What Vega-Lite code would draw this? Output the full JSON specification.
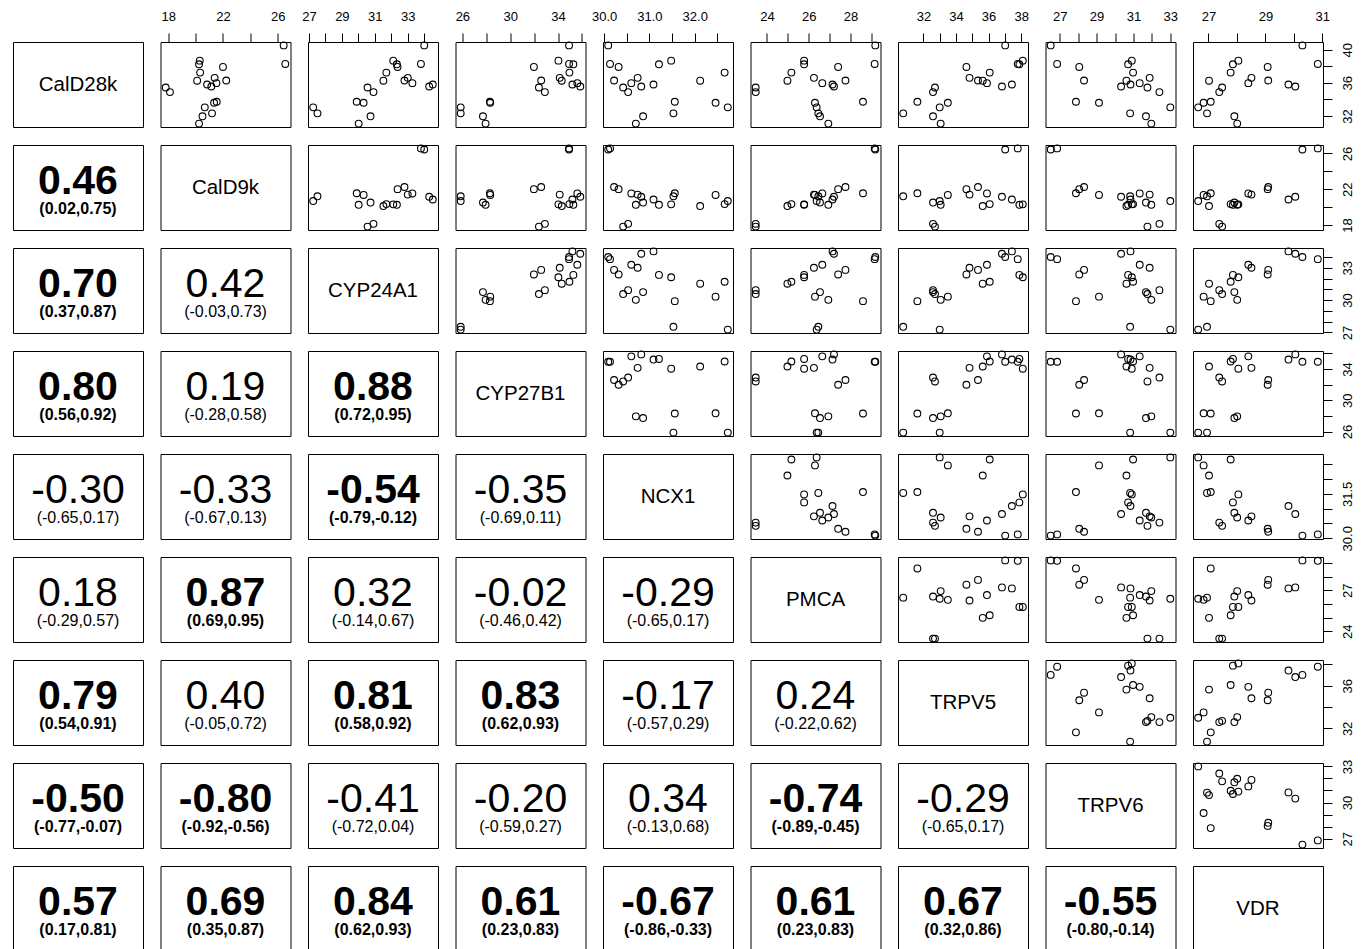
{
"$schema":"https://vega.github.io/schema/vega-lite/v6.json",
"background":"white",
"padding":{"left":12,"top":9,"right":5,"bottom":0},
"datasets":{"s":[
{"CalD28k":40.52,"CalD9k":26.44,"CYP24A1":34.0,"CYP27B1":34.92,"NCX1":30.09,"PMCA":29.19,"TRPV5":37.02,"TRPV6":26.51,"VDR":30.30},
{"CalD28k":38.28,"CalD9k":26.56,"CYP24A1":33.8,"CYP27B1":34.92,"NCX1":30.13,"PMCA":29.16,"TRPV5":37.79,"TRPV6":26.86,"VDR":30.84},
{"CalD28k":38.68,"CalD9k":20.30,"CYP24A1":32.12,"CYP27B1":34.03,"NCX1":31.48,"PMCA":25.78,"TRPV5":38.10,"TRPV6":30.91,"VDR":28.05},
{"CalD28k":38.24,"CalD9k":20.25,"CYP24A1":32.34,"CYP27B1":35.28,"NCX1":31.21,"PMCA":25.78,"TRPV5":37.89,"TRPV6":30.71,"VDR":27.86},
{"CalD28k":37.24,"CalD9k":20.33,"CYP24A1":31.7,"CYP27B1":34.95,"NCX1":32.66,"PMCA":25.17,"TRPV5":36.07,"TRPV6":30.98,"VDR":27.78},
{"CalD28k":37.92,"CalD9k":22.0,"CYP24A1":32.38,"CYP27B1":31.98,"NCX1":30.32,"PMCA":27.41,"TRPV5":34.64,"TRPV6":28.06,"VDR":29.08},
{"CalD28k":36.6,"CalD9k":21.39,"CYP24A1":33.0,"CYP27B1":34.14,"NCX1":30.74,"PMCA":26.25,"TRPV5":34.83,"TRPV6":31.88,"VDR":28.51},
{"CalD28k":35.96,"CalD9k":21.52,"CYP24A1":33.28,"CYP27B1":35.61,"NCX1":30.60,"PMCA":26.65,"TRPV5":35.90,"TRPV6":31.34,"VDR":28.40},
{"CalD28k":36.28,"CalD9k":22.24,"CYP24A1":32.8,"CYP27B1":32.59,"NCX1":30.22,"PMCA":27.76,"TRPV5":35.35,"TRPV6":28.32,"VDR":29.10},
{"CalD28k":36.26,"CalD9k":20.11,"CYP24A1":31.52,"CYP27B1":34.31,"NCX1":32.12,"PMCA":24.98,"TRPV5":35.64,"TRPV6":30.62,"VDR":27.02},
{"CalD28k":35.44,"CalD9k":17.81,"CYP24A1":30.56,"CYP27B1":32.4,"NCX1":30.42,"PMCA":23.46,"TRPV5":32.71,"TRPV6":31.76,"VDR":27.48},
{"CalD28k":34.88,"CalD9k":18.12,"CYP24A1":30.92,"CYP27B1":32.9,"NCX1":30.53,"PMCA":23.46,"TRPV5":32.59,"TRPV6":32.41,"VDR":27.38},
{"CalD28k":35.8,"CalD9k":20.84,"CYP24A1":34.52,"CYP27B1":35.20,"NCX1":31.09,"PMCA":27.14,"TRPV5":37.43,"TRPV6":30.84,"VDR":29.81},
{"CalD28k":35.56,"CalD9k":21.15,"CYP24A1":34.3,"CYP27B1":35.86,"NCX1":30.82,"PMCA":27.21,"TRPV5":36.82,"TRPV6":30.33,"VDR":30.05},
{"CalD28k":33.6,"CalD9k":21.35,"CYP24A1":30.32,"CYP27B1":28.33,"NCX1":32.46,"PMCA":26.30,"TRPV5":33.50,"TRPV6":29.13,"VDR":26.83},
{"CalD28k":33.72,"CalD9k":21.54,"CYP24A1":29.9,"CYP27B1":28.30,"NCX1":31.56,"PMCA":28.60,"TRPV5":31.63,"TRPV6":27.88,"VDR":27.08},
{"CalD28k":33.04,"CalD9k":20.67,"CYP24A1":27.26,"CYP27B1":25.86,"NCX1":32.73,"PMCA":26.38,"TRPV5":33.0,"TRPV6":33.0,"VDR":26.64},
{"CalD28k":32.32,"CalD9k":21.2,"CYP24A1":27.52,"CYP27B1":25.86,"NCX1":31.53,"PMCA":26.46,"TRPV5":30.76,"TRPV6":30.82,"VDR":26.95},
{"CalD28k":31.96,"CalD9k":20.5,"CYP24A1":30.74,"CYP27B1":27.72,"NCX1":30.86,"PMCA":26.54,"TRPV5":32.59,"TRPV6":31.68,"VDR":27.91},
{"CalD28k":31.08,"CalD9k":20.25,"CYP24A1":30.02,"CYP27B1":27.94,"NCX1":30.70,"PMCA":26.94,"TRPV5":33.06,"TRPV6":31.97,"VDR":28.01}
]},
"config":{
"view":{"stroke":"black","strokeWidth":1},
"axis":{"domain":false,"grid":false,"tickColor":"black","tickSize":9,"tickWidth":1,"labelFont":"Liberation Sans","labelFontSize":13,"labelColor":"black","labelPadding":10,"labelOverlap":false,"labelFlush":false},
"axisRight":{"labelAngle":-90,"labelAlign":"center","labelBaseline":"top","labelPadding":9},
"point":{"shape":"circle","filled":false,"color":"black","size":46,"strokeWidth":1.1,"opacity":1},
"text":{"font":"Liberation Sans","color":"black"}
},
"columns":9,
"spacing":{"row":18,"column":17.5},
"bounds":"flush",
"align":"all",
"concat":[
{"width":130,"height":85,"data":{"values":[{"t":"CalD28k"}]},"mark":{"type":"text","fontSize":20.5},"encoding":{"text":{"field":"t"},"x":{"datum":0,"type":"quantitative","scale":{"domain":[-1,1]},"axis":null},"y":{"datum":0,"type":"quantitative","scale":{"domain":[-1,1]},"axis":null}}},
{"width":130,"height":85,"data":{"name":"s"},"mark":"point","encoding":{"x":{"field":"CalD9k","type":"quantitative","scale":{"zero":false,"nice":false,"padding":5.2},"axis":{"orient":"top","title":null,"values":[18,20,22,24,26],"labelExpr":"indexof([18,22,26],datum.value)>=0?datum.label:''"}},"y":{"field":"CalD28k","type":"quantitative","scale":{"zero":false,"nice":false,"padding":3.4},"axis":null}}},
{"width":130,"height":85,"data":{"name":"s"},"mark":"point","encoding":{"x":{"field":"CYP24A1","type":"quantitative","scale":{"zero":false,"nice":false,"padding":5.2},"axis":{"orient":"top","title":null,"values":[27,28,29,30,31,32,33,34],"labelExpr":"indexof([27,29,31,33],datum.value)>=0?datum.label:''"}},"y":{"field":"CalD28k","type":"quantitative","scale":{"zero":false,"nice":false,"padding":3.4},"axis":null}}},
{"width":130,"height":85,"data":{"name":"s"},"mark":"point","encoding":{"x":{"field":"CYP27B1","type":"quantitative","scale":{"zero":false,"nice":false,"padding":5.2},"axis":{"orient":"top","title":null,"values":[26,28,30,32,34,36],"labelExpr":"indexof([26,30,34],datum.value)>=0?datum.label:''"}},"y":{"field":"CalD28k","type":"quantitative","scale":{"zero":false,"nice":false,"padding":3.4},"axis":null}}},
{"width":130,"height":85,"data":{"name":"s"},"mark":"point","encoding":{"x":{"field":"NCX1","type":"quantitative","scale":{"zero":false,"nice":false,"padding":5.2},"axis":{"orient":"top","title":null,"format":".1f","values":[30,30.5,31,31.5,32,32.5],"labelExpr":"indexof([30,31,32],datum.value)>=0?datum.label:''"}},"y":{"field":"CalD28k","type":"quantitative","scale":{"zero":false,"nice":false,"padding":3.4},"axis":null}}},
{"width":130,"height":85,"data":{"name":"s"},"mark":"point","encoding":{"x":{"field":"PMCA","type":"quantitative","scale":{"zero":false,"nice":false,"padding":5.2},"axis":{"orient":"top","title":null,"values":[24,25,26,27,28,29],"labelExpr":"indexof([24,26,28],datum.value)>=0?datum.label:''"}},"y":{"field":"CalD28k","type":"quantitative","scale":{"zero":false,"nice":false,"padding":3.4},"axis":null}}},
{"width":130,"height":85,"data":{"name":"s"},"mark":"point","encoding":{"x":{"field":"TRPV5","type":"quantitative","scale":{"zero":false,"nice":false,"padding":5.2},"axis":{"orient":"top","title":null,"values":[32,33,34,35,36,37,38],"labelExpr":"indexof([32,34,36,38],datum.value)>=0?datum.label:''"}},"y":{"field":"CalD28k","type":"quantitative","scale":{"zero":false,"nice":false,"padding":3.4},"axis":null}}},
{"width":130,"height":85,"data":{"name":"s"},"mark":"point","encoding":{"x":{"field":"TRPV6","type":"quantitative","scale":{"zero":false,"nice":false,"padding":5.2},"axis":{"orient":"top","title":null,"values":[27,28,29,30,31,32,33],"labelExpr":"indexof([27,29,31,33],datum.value)>=0?datum.label:''"}},"y":{"field":"CalD28k","type":"quantitative","scale":{"zero":false,"nice":false,"padding":3.4},"axis":null}}},
{"width":130,"height":85,"data":{"name":"s"},"mark":"point","encoding":{"x":{"field":"VDR","type":"quantitative","scale":{"zero":false,"nice":false,"padding":5.2},"axis":{"orient":"top","title":null,"values":[27,28,29,30,31],"labelExpr":"indexof([27,29,31],datum.value)>=0?datum.label:''"}},"y":{"field":"CalD28k","type":"quantitative","scale":{"zero":false,"nice":false,"padding":3.4},"axis":{"orient":"right","title":null,"values":[32,34,36,38,40],"labelExpr":"indexof([32,36,40],datum.value)>=0?datum.label:''"}}}},

{"width":130,"height":85,"data":{"values":[{"r":"0.46","ci":"(0.02,0.75)"}]},"encoding":{"x":{"datum":0,"type":"quantitative","scale":{"domain":[-1,1]},"axis":null},"y":{"datum":0,"type":"quantitative","scale":{"domain":[-1,1]},"axis":null}},"layer":[{"mark":{"type":"text","fontSize":41,"fontWeight":"bold","dy":-6},"encoding":{"text":{"field":"r"}}},{"mark":{"type":"text","fontSize":16,"fontWeight":"bold","dy":21},"encoding":{"text":{"field":"ci"}}}]},
{"width":130,"height":85,"data":{"values":[{"t":"CalD9k"}]},"mark":{"type":"text","fontSize":20.5},"encoding":{"text":{"field":"t"},"x":{"datum":0,"type":"quantitative","scale":{"domain":[-1,1]},"axis":null},"y":{"datum":0,"type":"quantitative","scale":{"domain":[-1,1]},"axis":null}}},
{"width":130,"height":85,"data":{"name":"s"},"mark":"point","encoding":{"x":{"field":"CYP24A1","type":"quantitative","scale":{"zero":false,"nice":false,"padding":5.2},"axis":null},"y":{"field":"CalD9k","type":"quantitative","scale":{"zero":false,"nice":false,"padding":3.4},"axis":null}}},
{"width":130,"height":85,"data":{"name":"s"},"mark":"point","encoding":{"x":{"field":"CYP27B1","type":"quantitative","scale":{"zero":false,"nice":false,"padding":5.2},"axis":null},"y":{"field":"CalD9k","type":"quantitative","scale":{"zero":false,"nice":false,"padding":3.4},"axis":null}}},
{"width":130,"height":85,"data":{"name":"s"},"mark":"point","encoding":{"x":{"field":"NCX1","type":"quantitative","scale":{"zero":false,"nice":false,"padding":5.2},"axis":null},"y":{"field":"CalD9k","type":"quantitative","scale":{"zero":false,"nice":false,"padding":3.4},"axis":null}}},
{"width":130,"height":85,"data":{"name":"s"},"mark":"point","encoding":{"x":{"field":"PMCA","type":"quantitative","scale":{"zero":false,"nice":false,"padding":5.2},"axis":null},"y":{"field":"CalD9k","type":"quantitative","scale":{"zero":false,"nice":false,"padding":3.4},"axis":null}}},
{"width":130,"height":85,"data":{"name":"s"},"mark":"point","encoding":{"x":{"field":"TRPV5","type":"quantitative","scale":{"zero":false,"nice":false,"padding":5.2},"axis":null},"y":{"field":"CalD9k","type":"quantitative","scale":{"zero":false,"nice":false,"padding":3.4},"axis":null}}},
{"width":130,"height":85,"data":{"name":"s"},"mark":"point","encoding":{"x":{"field":"TRPV6","type":"quantitative","scale":{"zero":false,"nice":false,"padding":5.2},"axis":null},"y":{"field":"CalD9k","type":"quantitative","scale":{"zero":false,"nice":false,"padding":3.4},"axis":null}}},
{"width":130,"height":85,"data":{"name":"s"},"mark":"point","encoding":{"x":{"field":"VDR","type":"quantitative","scale":{"zero":false,"nice":false,"padding":5.2},"axis":null},"y":{"field":"CalD9k","type":"quantitative","scale":{"zero":false,"nice":false,"padding":3.4},"axis":{"orient":"right","title":null,"values":[18,20,22,24,26],"labelExpr":"indexof([18,22,26],datum.value)>=0?datum.label:''"}}}},

{"width":130,"height":85,"data":{"values":[{"r":"0.70","ci":"(0.37,0.87)"}]},"encoding":{"x":{"datum":0,"type":"quantitative","scale":{"domain":[-1,1]},"axis":null},"y":{"datum":0,"type":"quantitative","scale":{"domain":[-1,1]},"axis":null}},"layer":[{"mark":{"type":"text","fontSize":41,"fontWeight":"bold","dy":-6},"encoding":{"text":{"field":"r"}}},{"mark":{"type":"text","fontSize":16,"fontWeight":"bold","dy":21},"encoding":{"text":{"field":"ci"}}}]},
{"width":130,"height":85,"data":{"values":[{"r":"0.42","ci":"(-0.03,0.73)"}]},"encoding":{"x":{"datum":0,"type":"quantitative","scale":{"domain":[-1,1]},"axis":null},"y":{"datum":0,"type":"quantitative","scale":{"domain":[-1,1]},"axis":null}},"layer":[{"mark":{"type":"text","fontSize":41,"dy":-6},"encoding":{"text":{"field":"r"}}},{"mark":{"type":"text","fontSize":16,"dy":21},"encoding":{"text":{"field":"ci"}}}]},
{"width":130,"height":85,"data":{"values":[{"t":"CYP24A1"}]},"mark":{"type":"text","fontSize":20.5},"encoding":{"text":{"field":"t"},"x":{"datum":0,"type":"quantitative","scale":{"domain":[-1,1]},"axis":null},"y":{"datum":0,"type":"quantitative","scale":{"domain":[-1,1]},"axis":null}}},
{"width":130,"height":85,"data":{"name":"s"},"mark":"point","encoding":{"x":{"field":"CYP27B1","type":"quantitative","scale":{"zero":false,"nice":false,"padding":5.2},"axis":null},"y":{"field":"CYP24A1","type":"quantitative","scale":{"zero":false,"nice":false,"padding":3.4},"axis":null}}},
{"width":130,"height":85,"data":{"name":"s"},"mark":"point","encoding":{"x":{"field":"NCX1","type":"quantitative","scale":{"zero":false,"nice":false,"padding":5.2},"axis":null},"y":{"field":"CYP24A1","type":"quantitative","scale":{"zero":false,"nice":false,"padding":3.4},"axis":null}}},
{"width":130,"height":85,"data":{"name":"s"},"mark":"point","encoding":{"x":{"field":"PMCA","type":"quantitative","scale":{"zero":false,"nice":false,"padding":5.2},"axis":null},"y":{"field":"CYP24A1","type":"quantitative","scale":{"zero":false,"nice":false,"padding":3.4},"axis":null}}},
{"width":130,"height":85,"data":{"name":"s"},"mark":"point","encoding":{"x":{"field":"TRPV5","type":"quantitative","scale":{"zero":false,"nice":false,"padding":5.2},"axis":null},"y":{"field":"CYP24A1","type":"quantitative","scale":{"zero":false,"nice":false,"padding":3.4},"axis":null}}},
{"width":130,"height":85,"data":{"name":"s"},"mark":"point","encoding":{"x":{"field":"TRPV6","type":"quantitative","scale":{"zero":false,"nice":false,"padding":5.2},"axis":null},"y":{"field":"CYP24A1","type":"quantitative","scale":{"zero":false,"nice":false,"padding":3.4},"axis":null}}},
{"width":130,"height":85,"data":{"name":"s"},"mark":"point","encoding":{"x":{"field":"VDR","type":"quantitative","scale":{"zero":false,"nice":false,"padding":5.2},"axis":null},"y":{"field":"CYP24A1","type":"quantitative","scale":{"zero":false,"nice":false,"padding":3.4},"axis":{"orient":"right","title":null,"values":[27,28,29,30,31,32,33,34],"labelExpr":"indexof([27,30,33],datum.value)>=0?datum.label:''"}}}},

{"width":130,"height":85,"data":{"values":[{"r":"0.80","ci":"(0.56,0.92)"}]},"encoding":{"x":{"datum":0,"type":"quantitative","scale":{"domain":[-1,1]},"axis":null},"y":{"datum":0,"type":"quantitative","scale":{"domain":[-1,1]},"axis":null}},"layer":[{"mark":{"type":"text","fontSize":41,"fontWeight":"bold","dy":-6},"encoding":{"text":{"field":"r"}}},{"mark":{"type":"text","fontSize":16,"fontWeight":"bold","dy":21},"encoding":{"text":{"field":"ci"}}}]},
{"width":130,"height":85,"data":{"values":[{"r":"0.19","ci":"(-0.28,0.58)"}]},"encoding":{"x":{"datum":0,"type":"quantitative","scale":{"domain":[-1,1]},"axis":null},"y":{"datum":0,"type":"quantitative","scale":{"domain":[-1,1]},"axis":null}},"layer":[{"mark":{"type":"text","fontSize":41,"dy":-6},"encoding":{"text":{"field":"r"}}},{"mark":{"type":"text","fontSize":16,"dy":21},"encoding":{"text":{"field":"ci"}}}]},
{"width":130,"height":85,"data":{"values":[{"r":"0.88","ci":"(0.72,0.95)"}]},"encoding":{"x":{"datum":0,"type":"quantitative","scale":{"domain":[-1,1]},"axis":null},"y":{"datum":0,"type":"quantitative","scale":{"domain":[-1,1]},"axis":null}},"layer":[{"mark":{"type":"text","fontSize":41,"fontWeight":"bold","dy":-6},"encoding":{"text":{"field":"r"}}},{"mark":{"type":"text","fontSize":16,"fontWeight":"bold","dy":21},"encoding":{"text":{"field":"ci"}}}]},
{"width":130,"height":85,"data":{"values":[{"t":"CYP27B1"}]},"mark":{"type":"text","fontSize":20.5},"encoding":{"text":{"field":"t"},"x":{"datum":0,"type":"quantitative","scale":{"domain":[-1,1]},"axis":null},"y":{"datum":0,"type":"quantitative","scale":{"domain":[-1,1]},"axis":null}}},
{"width":130,"height":85,"data":{"name":"s"},"mark":"point","encoding":{"x":{"field":"NCX1","type":"quantitative","scale":{"zero":false,"nice":false,"padding":5.2},"axis":null},"y":{"field":"CYP27B1","type":"quantitative","scale":{"zero":false,"nice":false,"padding":3.4},"axis":null}}},
{"width":130,"height":85,"data":{"name":"s"},"mark":"point","encoding":{"x":{"field":"PMCA","type":"quantitative","scale":{"zero":false,"nice":false,"padding":5.2},"axis":null},"y":{"field":"CYP27B1","type":"quantitative","scale":{"zero":false,"nice":false,"padding":3.4},"axis":null}}},
{"width":130,"height":85,"data":{"name":"s"},"mark":"point","encoding":{"x":{"field":"TRPV5","type":"quantitative","scale":{"zero":false,"nice":false,"padding":5.2},"axis":null},"y":{"field":"CYP27B1","type":"quantitative","scale":{"zero":false,"nice":false,"padding":3.4},"axis":null}}},
{"width":130,"height":85,"data":{"name":"s"},"mark":"point","encoding":{"x":{"field":"TRPV6","type":"quantitative","scale":{"zero":false,"nice":false,"padding":5.2},"axis":null},"y":{"field":"CYP27B1","type":"quantitative","scale":{"zero":false,"nice":false,"padding":3.4},"axis":null}}},
{"width":130,"height":85,"data":{"name":"s"},"mark":"point","encoding":{"x":{"field":"VDR","type":"quantitative","scale":{"zero":false,"nice":false,"padding":5.2},"axis":null},"y":{"field":"CYP27B1","type":"quantitative","scale":{"zero":false,"nice":false,"padding":3.4},"axis":{"orient":"right","title":null,"values":[26,28,30,32,34,36],"labelExpr":"indexof([26,30,34],datum.value)>=0?datum.label:''"}}}},

{"width":130,"height":85,"data":{"values":[{"r":"-0.30","ci":"(-0.65,0.17)"}]},"encoding":{"x":{"datum":0,"type":"quantitative","scale":{"domain":[-1,1]},"axis":null},"y":{"datum":0,"type":"quantitative","scale":{"domain":[-1,1]},"axis":null}},"layer":[{"mark":{"type":"text","fontSize":41,"dy":-6},"encoding":{"text":{"field":"r"}}},{"mark":{"type":"text","fontSize":16,"dy":21},"encoding":{"text":{"field":"ci"}}}]},
{"width":130,"height":85,"data":{"values":[{"r":"-0.33","ci":"(-0.67,0.13)"}]},"encoding":{"x":{"datum":0,"type":"quantitative","scale":{"domain":[-1,1]},"axis":null},"y":{"datum":0,"type":"quantitative","scale":{"domain":[-1,1]},"axis":null}},"layer":[{"mark":{"type":"text","fontSize":41,"dy":-6},"encoding":{"text":{"field":"r"}}},{"mark":{"type":"text","fontSize":16,"dy":21},"encoding":{"text":{"field":"ci"}}}]},
{"width":130,"height":85,"data":{"values":[{"r":"-0.54","ci":"(-0.79,-0.12)"}]},"encoding":{"x":{"datum":0,"type":"quantitative","scale":{"domain":[-1,1]},"axis":null},"y":{"datum":0,"type":"quantitative","scale":{"domain":[-1,1]},"axis":null}},"layer":[{"mark":{"type":"text","fontSize":41,"fontWeight":"bold","dy":-6},"encoding":{"text":{"field":"r"}}},{"mark":{"type":"text","fontSize":16,"fontWeight":"bold","dy":21},"encoding":{"text":{"field":"ci"}}}]},
{"width":130,"height":85,"data":{"values":[{"r":"-0.35","ci":"(-0.69,0.11)"}]},"encoding":{"x":{"datum":0,"type":"quantitative","scale":{"domain":[-1,1]},"axis":null},"y":{"datum":0,"type":"quantitative","scale":{"domain":[-1,1]},"axis":null}},"layer":[{"mark":{"type":"text","fontSize":41,"dy":-6},"encoding":{"text":{"field":"r"}}},{"mark":{"type":"text","fontSize":16,"dy":21},"encoding":{"text":{"field":"ci"}}}]},
{"width":130,"height":85,"data":{"values":[{"t":"NCX1"}]},"mark":{"type":"text","fontSize":20.5},"encoding":{"text":{"field":"t"},"x":{"datum":0,"type":"quantitative","scale":{"domain":[-1,1]},"axis":null},"y":{"datum":0,"type":"quantitative","scale":{"domain":[-1,1]},"axis":null}}},
{"width":130,"height":85,"data":{"name":"s"},"mark":"point","encoding":{"x":{"field":"PMCA","type":"quantitative","scale":{"zero":false,"nice":false,"padding":5.2},"axis":null},"y":{"field":"NCX1","type":"quantitative","scale":{"zero":false,"nice":false,"padding":3.4},"axis":null}}},
{"width":130,"height":85,"data":{"name":"s"},"mark":"point","encoding":{"x":{"field":"TRPV5","type":"quantitative","scale":{"zero":false,"nice":false,"padding":5.2},"axis":null},"y":{"field":"NCX1","type":"quantitative","scale":{"zero":false,"nice":false,"padding":3.4},"axis":null}}},
{"width":130,"height":85,"data":{"name":"s"},"mark":"point","encoding":{"x":{"field":"TRPV6","type":"quantitative","scale":{"zero":false,"nice":false,"padding":5.2},"axis":null},"y":{"field":"NCX1","type":"quantitative","scale":{"zero":false,"nice":false,"padding":3.4},"axis":null}}},
{"width":130,"height":85,"data":{"name":"s"},"mark":"point","encoding":{"x":{"field":"VDR","type":"quantitative","scale":{"zero":false,"nice":false,"padding":5.2},"axis":null},"y":{"field":"NCX1","type":"quantitative","scale":{"zero":false,"nice":false,"padding":3.4},"axis":{"orient":"right","title":null,"format":".1f","values":[30,30.5,31,31.5,32,32.5],"labelExpr":"indexof([30,31.5],datum.value)>=0?datum.label:''"}}}},

{"width":130,"height":85,"data":{"values":[{"r":"0.18","ci":"(-0.29,0.57)"}]},"encoding":{"x":{"datum":0,"type":"quantitative","scale":{"domain":[-1,1]},"axis":null},"y":{"datum":0,"type":"quantitative","scale":{"domain":[-1,1]},"axis":null}},"layer":[{"mark":{"type":"text","fontSize":41,"dy":-6},"encoding":{"text":{"field":"r"}}},{"mark":{"type":"text","fontSize":16,"dy":21},"encoding":{"text":{"field":"ci"}}}]},
{"width":130,"height":85,"data":{"values":[{"r":"0.87","ci":"(0.69,0.95)"}]},"encoding":{"x":{"datum":0,"type":"quantitative","scale":{"domain":[-1,1]},"axis":null},"y":{"datum":0,"type":"quantitative","scale":{"domain":[-1,1]},"axis":null}},"layer":[{"mark":{"type":"text","fontSize":41,"fontWeight":"bold","dy":-6},"encoding":{"text":{"field":"r"}}},{"mark":{"type":"text","fontSize":16,"fontWeight":"bold","dy":21},"encoding":{"text":{"field":"ci"}}}]},
{"width":130,"height":85,"data":{"values":[{"r":"0.32","ci":"(-0.14,0.67)"}]},"encoding":{"x":{"datum":0,"type":"quantitative","scale":{"domain":[-1,1]},"axis":null},"y":{"datum":0,"type":"quantitative","scale":{"domain":[-1,1]},"axis":null}},"layer":[{"mark":{"type":"text","fontSize":41,"dy":-6},"encoding":{"text":{"field":"r"}}},{"mark":{"type":"text","fontSize":16,"dy":21},"encoding":{"text":{"field":"ci"}}}]},
{"width":130,"height":85,"data":{"values":[{"r":"-0.02","ci":"(-0.46,0.42)"}]},"encoding":{"x":{"datum":0,"type":"quantitative","scale":{"domain":[-1,1]},"axis":null},"y":{"datum":0,"type":"quantitative","scale":{"domain":[-1,1]},"axis":null}},"layer":[{"mark":{"type":"text","fontSize":41,"dy":-6},"encoding":{"text":{"field":"r"}}},{"mark":{"type":"text","fontSize":16,"dy":21},"encoding":{"text":{"field":"ci"}}}]},
{"width":130,"height":85,"data":{"values":[{"r":"-0.29","ci":"(-0.65,0.17)"}]},"encoding":{"x":{"datum":0,"type":"quantitative","scale":{"domain":[-1,1]},"axis":null},"y":{"datum":0,"type":"quantitative","scale":{"domain":[-1,1]},"axis":null}},"layer":[{"mark":{"type":"text","fontSize":41,"dy":-6},"encoding":{"text":{"field":"r"}}},{"mark":{"type":"text","fontSize":16,"dy":21},"encoding":{"text":{"field":"ci"}}}]},
{"width":130,"height":85,"data":{"values":[{"t":"PMCA"}]},"mark":{"type":"text","fontSize":20.5},"encoding":{"text":{"field":"t"},"x":{"datum":0,"type":"quantitative","scale":{"domain":[-1,1]},"axis":null},"y":{"datum":0,"type":"quantitative","scale":{"domain":[-1,1]},"axis":null}}},
{"width":130,"height":85,"data":{"name":"s"},"mark":"point","encoding":{"x":{"field":"TRPV5","type":"quantitative","scale":{"zero":false,"nice":false,"padding":5.2},"axis":null},"y":{"field":"PMCA","type":"quantitative","scale":{"zero":false,"nice":false,"padding":3.4},"axis":null}}},
{"width":130,"height":85,"data":{"name":"s"},"mark":"point","encoding":{"x":{"field":"TRPV6","type":"quantitative","scale":{"zero":false,"nice":false,"padding":5.2},"axis":null},"y":{"field":"PMCA","type":"quantitative","scale":{"zero":false,"nice":false,"padding":3.4},"axis":null}}},
{"width":130,"height":85,"data":{"name":"s"},"mark":"point","encoding":{"x":{"field":"VDR","type":"quantitative","scale":{"zero":false,"nice":false,"padding":5.2},"axis":null},"y":{"field":"PMCA","type":"quantitative","scale":{"zero":false,"nice":false,"padding":3.4},"axis":{"orient":"right","title":null,"values":[24,25,26,27,28,29],"labelExpr":"indexof([24,27],datum.value)>=0?datum.label:''"}}}},

{"width":130,"height":85,"data":{"values":[{"r":"0.79","ci":"(0.54,0.91)"}]},"encoding":{"x":{"datum":0,"type":"quantitative","scale":{"domain":[-1,1]},"axis":null},"y":{"datum":0,"type":"quantitative","scale":{"domain":[-1,1]},"axis":null}},"layer":[{"mark":{"type":"text","fontSize":41,"fontWeight":"bold","dy":-6},"encoding":{"text":{"field":"r"}}},{"mark":{"type":"text","fontSize":16,"fontWeight":"bold","dy":21},"encoding":{"text":{"field":"ci"}}}]},
{"width":130,"height":85,"data":{"values":[{"r":"0.40","ci":"(-0.05,0.72)"}]},"encoding":{"x":{"datum":0,"type":"quantitative","scale":{"domain":[-1,1]},"axis":null},"y":{"datum":0,"type":"quantitative","scale":{"domain":[-1,1]},"axis":null}},"layer":[{"mark":{"type":"text","fontSize":41,"dy":-6},"encoding":{"text":{"field":"r"}}},{"mark":{"type":"text","fontSize":16,"dy":21},"encoding":{"text":{"field":"ci"}}}]},
{"width":130,"height":85,"data":{"values":[{"r":"0.81","ci":"(0.58,0.92)"}]},"encoding":{"x":{"datum":0,"type":"quantitative","scale":{"domain":[-1,1]},"axis":null},"y":{"datum":0,"type":"quantitative","scale":{"domain":[-1,1]},"axis":null}},"layer":[{"mark":{"type":"text","fontSize":41,"fontWeight":"bold","dy":-6},"encoding":{"text":{"field":"r"}}},{"mark":{"type":"text","fontSize":16,"fontWeight":"bold","dy":21},"encoding":{"text":{"field":"ci"}}}]},
{"width":130,"height":85,"data":{"values":[{"r":"0.83","ci":"(0.62,0.93)"}]},"encoding":{"x":{"datum":0,"type":"quantitative","scale":{"domain":[-1,1]},"axis":null},"y":{"datum":0,"type":"quantitative","scale":{"domain":[-1,1]},"axis":null}},"layer":[{"mark":{"type":"text","fontSize":41,"fontWeight":"bold","dy":-6},"encoding":{"text":{"field":"r"}}},{"mark":{"type":"text","fontSize":16,"fontWeight":"bold","dy":21},"encoding":{"text":{"field":"ci"}}}]},
{"width":130,"height":85,"data":{"values":[{"r":"-0.17","ci":"(-0.57,0.29)"}]},"encoding":{"x":{"datum":0,"type":"quantitative","scale":{"domain":[-1,1]},"axis":null},"y":{"datum":0,"type":"quantitative","scale":{"domain":[-1,1]},"axis":null}},"layer":[{"mark":{"type":"text","fontSize":41,"dy":-6},"encoding":{"text":{"field":"r"}}},{"mark":{"type":"text","fontSize":16,"dy":21},"encoding":{"text":{"field":"ci"}}}]},
{"width":130,"height":85,"data":{"values":[{"r":"0.24","ci":"(-0.22,0.62)"}]},"encoding":{"x":{"datum":0,"type":"quantitative","scale":{"domain":[-1,1]},"axis":null},"y":{"datum":0,"type":"quantitative","scale":{"domain":[-1,1]},"axis":null}},"layer":[{"mark":{"type":"text","fontSize":41,"dy":-6},"encoding":{"text":{"field":"r"}}},{"mark":{"type":"text","fontSize":16,"dy":21},"encoding":{"text":{"field":"ci"}}}]},
{"width":130,"height":85,"data":{"values":[{"t":"TRPV5"}]},"mark":{"type":"text","fontSize":20.5},"encoding":{"text":{"field":"t"},"x":{"datum":0,"type":"quantitative","scale":{"domain":[-1,1]},"axis":null},"y":{"datum":0,"type":"quantitative","scale":{"domain":[-1,1]},"axis":null}}},
{"width":130,"height":85,"data":{"name":"s"},"mark":"point","encoding":{"x":{"field":"TRPV6","type":"quantitative","scale":{"zero":false,"nice":false,"padding":5.2},"axis":null},"y":{"field":"TRPV5","type":"quantitative","scale":{"zero":false,"nice":false,"padding":3.4},"axis":null}}},
{"width":130,"height":85,"data":{"name":"s"},"mark":"point","encoding":{"x":{"field":"VDR","type":"quantitative","scale":{"zero":false,"nice":false,"padding":5.2},"axis":null},"y":{"field":"TRPV5","type":"quantitative","scale":{"zero":false,"nice":false,"padding":3.4},"axis":{"orient":"right","title":null,"values":[32,34,36,38],"labelExpr":"indexof([32,36],datum.value)>=0?datum.label:''"}}}},

{"width":130,"height":85,"data":{"values":[{"r":"-0.50","ci":"(-0.77,-0.07)"}]},"encoding":{"x":{"datum":0,"type":"quantitative","scale":{"domain":[-1,1]},"axis":null},"y":{"datum":0,"type":"quantitative","scale":{"domain":[-1,1]},"axis":null}},"layer":[{"mark":{"type":"text","fontSize":41,"fontWeight":"bold","dy":-6},"encoding":{"text":{"field":"r"}}},{"mark":{"type":"text","fontSize":16,"fontWeight":"bold","dy":21},"encoding":{"text":{"field":"ci"}}}]},
{"width":130,"height":85,"data":{"values":[{"r":"-0.80","ci":"(-0.92,-0.56)"}]},"encoding":{"x":{"datum":0,"type":"quantitative","scale":{"domain":[-1,1]},"axis":null},"y":{"datum":0,"type":"quantitative","scale":{"domain":[-1,1]},"axis":null}},"layer":[{"mark":{"type":"text","fontSize":41,"fontWeight":"bold","dy":-6},"encoding":{"text":{"field":"r"}}},{"mark":{"type":"text","fontSize":16,"fontWeight":"bold","dy":21},"encoding":{"text":{"field":"ci"}}}]},
{"width":130,"height":85,"data":{"values":[{"r":"-0.41","ci":"(-0.72,0.04)"}]},"encoding":{"x":{"datum":0,"type":"quantitative","scale":{"domain":[-1,1]},"axis":null},"y":{"datum":0,"type":"quantitative","scale":{"domain":[-1,1]},"axis":null}},"layer":[{"mark":{"type":"text","fontSize":41,"dy":-6},"encoding":{"text":{"field":"r"}}},{"mark":{"type":"text","fontSize":16,"dy":21},"encoding":{"text":{"field":"ci"}}}]},
{"width":130,"height":85,"data":{"values":[{"r":"-0.20","ci":"(-0.59,0.27)"}]},"encoding":{"x":{"datum":0,"type":"quantitative","scale":{"domain":[-1,1]},"axis":null},"y":{"datum":0,"type":"quantitative","scale":{"domain":[-1,1]},"axis":null}},"layer":[{"mark":{"type":"text","fontSize":41,"dy":-6},"encoding":{"text":{"field":"r"}}},{"mark":{"type":"text","fontSize":16,"dy":21},"encoding":{"text":{"field":"ci"}}}]},
{"width":130,"height":85,"data":{"values":[{"r":"0.34","ci":"(-0.13,0.68)"}]},"encoding":{"x":{"datum":0,"type":"quantitative","scale":{"domain":[-1,1]},"axis":null},"y":{"datum":0,"type":"quantitative","scale":{"domain":[-1,1]},"axis":null}},"layer":[{"mark":{"type":"text","fontSize":41,"dy":-6},"encoding":{"text":{"field":"r"}}},{"mark":{"type":"text","fontSize":16,"dy":21},"encoding":{"text":{"field":"ci"}}}]},
{"width":130,"height":85,"data":{"values":[{"r":"-0.74","ci":"(-0.89,-0.45)"}]},"encoding":{"x":{"datum":0,"type":"quantitative","scale":{"domain":[-1,1]},"axis":null},"y":{"datum":0,"type":"quantitative","scale":{"domain":[-1,1]},"axis":null}},"layer":[{"mark":{"type":"text","fontSize":41,"fontWeight":"bold","dy":-6},"encoding":{"text":{"field":"r"}}},{"mark":{"type":"text","fontSize":16,"fontWeight":"bold","dy":21},"encoding":{"text":{"field":"ci"}}}]},
{"width":130,"height":85,"data":{"values":[{"r":"-0.29","ci":"(-0.65,0.17)"}]},"encoding":{"x":{"datum":0,"type":"quantitative","scale":{"domain":[-1,1]},"axis":null},"y":{"datum":0,"type":"quantitative","scale":{"domain":[-1,1]},"axis":null}},"layer":[{"mark":{"type":"text","fontSize":41,"dy":-6},"encoding":{"text":{"field":"r"}}},{"mark":{"type":"text","fontSize":16,"dy":21},"encoding":{"text":{"field":"ci"}}}]},
{"width":130,"height":85,"data":{"values":[{"t":"TRPV6"}]},"mark":{"type":"text","fontSize":20.5},"encoding":{"text":{"field":"t"},"x":{"datum":0,"type":"quantitative","scale":{"domain":[-1,1]},"axis":null},"y":{"datum":0,"type":"quantitative","scale":{"domain":[-1,1]},"axis":null}}},
{"width":130,"height":85,"data":{"name":"s"},"mark":"point","encoding":{"x":{"field":"VDR","type":"quantitative","scale":{"zero":false,"nice":false,"padding":5.2},"axis":null},"y":{"field":"TRPV6","type":"quantitative","scale":{"zero":false,"nice":false,"padding":3.4},"axis":{"orient":"right","title":null,"values":[27,28,29,30,31,32,33],"labelExpr":"indexof([27,30,33],datum.value)>=0?datum.label:''"}}}},

{"width":130,"height":85,"data":{"values":[{"r":"0.57","ci":"(0.17,0.81)"}]},"encoding":{"x":{"datum":0,"type":"quantitative","scale":{"domain":[-1,1]},"axis":null},"y":{"datum":0,"type":"quantitative","scale":{"domain":[-1,1]},"axis":null}},"layer":[{"mark":{"type":"text","fontSize":41,"fontWeight":"bold","dy":-6},"encoding":{"text":{"field":"r"}}},{"mark":{"type":"text","fontSize":16,"fontWeight":"bold","dy":21},"encoding":{"text":{"field":"ci"}}}]},
{"width":130,"height":85,"data":{"values":[{"r":"0.69","ci":"(0.35,0.87)"}]},"encoding":{"x":{"datum":0,"type":"quantitative","scale":{"domain":[-1,1]},"axis":null},"y":{"datum":0,"type":"quantitative","scale":{"domain":[-1,1]},"axis":null}},"layer":[{"mark":{"type":"text","fontSize":41,"fontWeight":"bold","dy":-6},"encoding":{"text":{"field":"r"}}},{"mark":{"type":"text","fontSize":16,"fontWeight":"bold","dy":21},"encoding":{"text":{"field":"ci"}}}]},
{"width":130,"height":85,"data":{"values":[{"r":"0.84","ci":"(0.62,0.93)"}]},"encoding":{"x":{"datum":0,"type":"quantitative","scale":{"domain":[-1,1]},"axis":null},"y":{"datum":0,"type":"quantitative","scale":{"domain":[-1,1]},"axis":null}},"layer":[{"mark":{"type":"text","fontSize":41,"fontWeight":"bold","dy":-6},"encoding":{"text":{"field":"r"}}},{"mark":{"type":"text","fontSize":16,"fontWeight":"bold","dy":21},"encoding":{"text":{"field":"ci"}}}]},
{"width":130,"height":85,"data":{"values":[{"r":"0.61","ci":"(0.23,0.83)"}]},"encoding":{"x":{"datum":0,"type":"quantitative","scale":{"domain":[-1,1]},"axis":null},"y":{"datum":0,"type":"quantitative","scale":{"domain":[-1,1]},"axis":null}},"layer":[{"mark":{"type":"text","fontSize":41,"fontWeight":"bold","dy":-6},"encoding":{"text":{"field":"r"}}},{"mark":{"type":"text","fontSize":16,"fontWeight":"bold","dy":21},"encoding":{"text":{"field":"ci"}}}]},
{"width":130,"height":85,"data":{"values":[{"r":"-0.67","ci":"(-0.86,-0.33)"}]},"encoding":{"x":{"datum":0,"type":"quantitative","scale":{"domain":[-1,1]},"axis":null},"y":{"datum":0,"type":"quantitative","scale":{"domain":[-1,1]},"axis":null}},"layer":[{"mark":{"type":"text","fontSize":41,"fontWeight":"bold","dy":-6},"encoding":{"text":{"field":"r"}}},{"mark":{"type":"text","fontSize":16,"fontWeight":"bold","dy":21},"encoding":{"text":{"field":"ci"}}}]},
{"width":130,"height":85,"data":{"values":[{"r":"0.61","ci":"(0.23,0.83)"}]},"encoding":{"x":{"datum":0,"type":"quantitative","scale":{"domain":[-1,1]},"axis":null},"y":{"datum":0,"type":"quantitative","scale":{"domain":[-1,1]},"axis":null}},"layer":[{"mark":{"type":"text","fontSize":41,"fontWeight":"bold","dy":-6},"encoding":{"text":{"field":"r"}}},{"mark":{"type":"text","fontSize":16,"fontWeight":"bold","dy":21},"encoding":{"text":{"field":"ci"}}}]},
{"width":130,"height":85,"data":{"values":[{"r":"0.67","ci":"(0.32,0.86)"}]},"encoding":{"x":{"datum":0,"type":"quantitative","scale":{"domain":[-1,1]},"axis":null},"y":{"datum":0,"type":"quantitative","scale":{"domain":[-1,1]},"axis":null}},"layer":[{"mark":{"type":"text","fontSize":41,"fontWeight":"bold","dy":-6},"encoding":{"text":{"field":"r"}}},{"mark":{"type":"text","fontSize":16,"fontWeight":"bold","dy":21},"encoding":{"text":{"field":"ci"}}}]},
{"width":130,"height":85,"data":{"values":[{"r":"-0.55","ci":"(-0.80,-0.14)"}]},"encoding":{"x":{"datum":0,"type":"quantitative","scale":{"domain":[-1,1]},"axis":null},"y":{"datum":0,"type":"quantitative","scale":{"domain":[-1,1]},"axis":null}},"layer":[{"mark":{"type":"text","fontSize":41,"fontWeight":"bold","dy":-6},"encoding":{"text":{"field":"r"}}},{"mark":{"type":"text","fontSize":16,"fontWeight":"bold","dy":21},"encoding":{"text":{"field":"ci"}}}]},
{"width":130,"height":85,"data":{"values":[{"t":"VDR"}]},"mark":{"type":"text","fontSize":20.5},"encoding":{"text":{"field":"t"},"x":{"datum":0,"type":"quantitative","scale":{"domain":[-1,1]},"axis":null},"y":{"datum":0,"type":"quantitative","scale":{"domain":[-1,1]},"axis":null}}}
]
}
